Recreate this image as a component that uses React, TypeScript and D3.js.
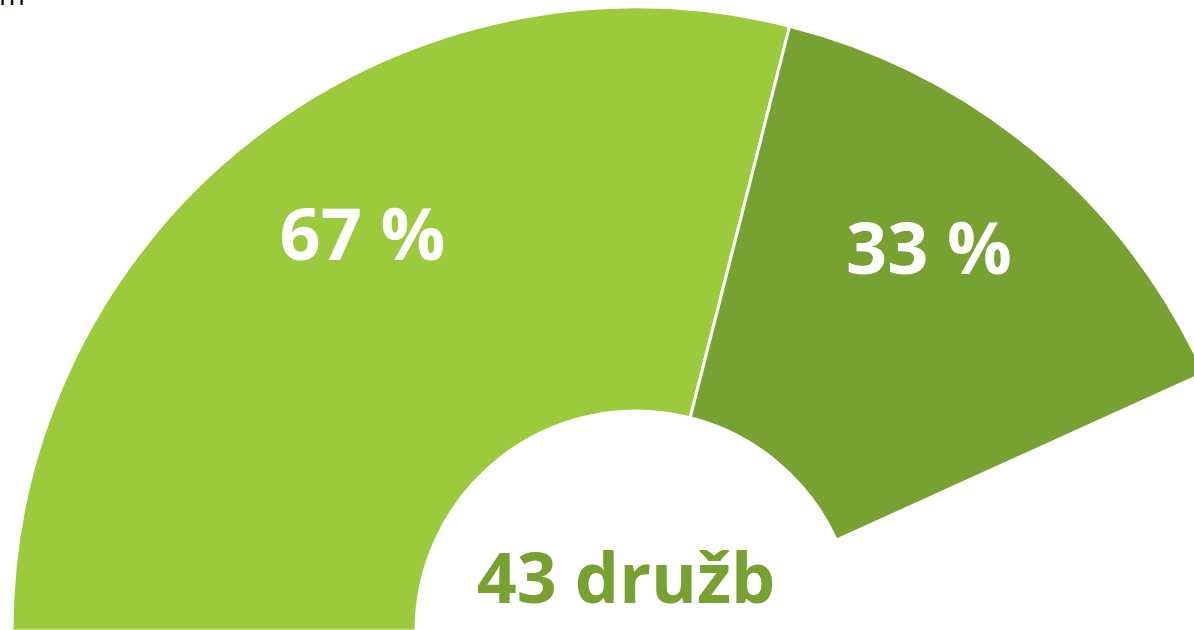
import React from "react";
import * as d3 from "d3";

const categories = ["A", "B"];
const values = [67, 33];
const labels = ["67 %", "33 %"];
const colors = ["#9BCB3C", "#77A131"];
const centerLabel = "43 družb";

const W = 1194;
const H = 630;
const cx = 636;
const cy = 631;
const rOuter = 624;
const rInner = 220;
const deg = Math.PI / 180;
const labelShifts = [3.3 * deg, -2.5 * deg];
const FONT = "'Open Sans', 'Noto Sans', sans-serif";

export default function App() {
  const pie = d3
    .pie<number>()
    .sort(null)
    .startAngle(-90 * deg)
    .endAngle(65.6 * deg);
  const arcs = pie(values);
  const arc = d3.arc<d3.PieArcDatum<number>>().innerRadius(rInner).outerRadius(rOuter);
  const labelR = 482;

  return (
    <svg
      width={W}
      height={H}
      style={{ position: "fixed", left: 0, top: 0, background: "#fff" }}
    >
      <text x={-1} y={4.5} fontFamily={FONT} fontSize={28} fill="#000">
        m
      </text>
      <g transform={`translate(${cx},${cy})`}>
        {arcs.map((a, i) => (
          <path
            key={categories[i]}
            d={arc(a) || ""}
            fill={colors[i]}
            stroke="#fff"
            strokeWidth={3}
            strokeLinejoin="miter"
          />
        ))}
        {arcs.map((a, i) => {
          const mid = (a.startAngle + a.endAngle) / 2 + labelShifts[i];
          const x = labelR * Math.sin(mid);
          const y = -labelR * Math.cos(mid);
          return (
            <text
              key={"l" + i}
              x={x}
              y={y}
              dy="0.36em"
              textAnchor="middle"
              fontFamily={FONT}
              fontWeight={700}
              fontSize={72}
              fill="#fff"
            >
              {labels[i]}
            </text>
          );
        })}
        <text
          x={-10}
          y={-28}
          textAnchor="middle"
          fontFamily={FONT}
          fontWeight={700}
          fontSize={70}
          fill="#77A131"
        >
          {centerLabel}
        </text>
      </g>
    </svg>
  );
}
